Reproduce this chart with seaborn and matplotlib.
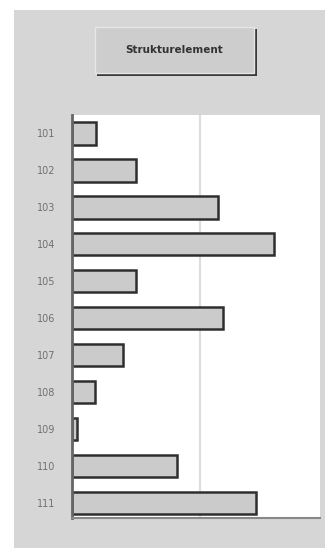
import matplotlib
matplotlib.use("Agg")
import matplotlib.pyplot as plt
import pandas as pd
import seaborn as sns
from matplotlib.patches import Rectangle

# values (arbitrary units, gridline at 50)
categories = ["101", "102", "103", "104", "105", "106", "107", "108", "109", "110", "111"]
values = [9.5, 25, 57, 79, 25, 59, 20, 9, 2, 41, 72]
title_text = "Strukturelement"

df = pd.DataFrame({"element": categories, "value": values})

sns.set_style("white")
plt.rcParams["font.family"] = ["DejaVu Sans"]

fig = plt.figure(figsize=(3.25, 5.48), dpi=100, facecolor="white")

# grey panel behind everything
fig.patches.append(Rectangle((14 / 325, 0), 1, 1 - 10 / 548, transform=fig.transFigure,
                             facecolor="#d6d6d6", edgecolor="none", zorder=-2))

# title "button" with dark shadow on right/bottom
fig.patches.append(Rectangle((97 / 325, 1 - 76 / 548), 160 / 325, 47 / 548, transform=fig.transFigure,
                             facecolor="#3a3a3a", edgecolor="none", zorder=1))
fig.patches.append(Rectangle((95 / 325, 1 - 73 / 548), 159 / 325, 46 / 548, transform=fig.transFigure,
                             facecolor="#cdcdcd", edgecolor="#e6e6e6", linewidth=1, zorder=2))
fig.text(174 / 325, 1 - 50 / 548, title_text, ha="center", va="center", fontsize=7.5,
         fontweight="bold", color="#333333", zorder=3)

ax = fig.add_axes([72 / 325, 30 / 548, 248 / 325, 403 / 548])
ax.set_zorder(5)
ax.set_facecolor("white")
sns.barplot(data=df, x="value", y="element", orient="h", color="#cbcbcb",
            edgecolor="#2e2e2e", linewidth=1.8, width=0.6, saturation=1, ax=ax)

ax.set_xlim(0, 97)
ax.set_ylim(10.4, -0.5)
ax.set_xticks([50])
ax.set_xticklabels([])
ax.tick_params(axis="x", length=0)
ax.grid(axis="x", color="#dcdcdc", linewidth=1.5)
ax.set_axisbelow(True)
ax.set_xlabel("")
ax.set_ylabel("")
ax.tick_params(axis="y", length=0, labelsize=7, labelcolor="#707070", pad=12)

for side in ["top", "right"]:
    ax.spines[side].set_visible(False)
ax.spines["left"].set_color("#666666")
ax.spines["left"].set_linewidth(2)
ax.spines["bottom"].set_color("#888888")
ax.spines["bottom"].set_linewidth(1.5)

fig.savefig("out.png", dpi=100, facecolor=fig.get_facecolor())
